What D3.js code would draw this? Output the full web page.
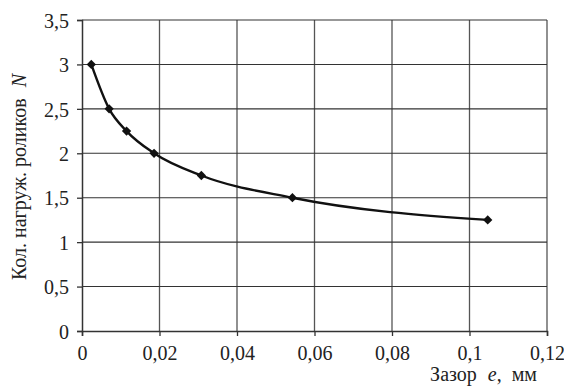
<!DOCTYPE html>
<html lang="ru">
<head>
  <meta charset="UTF-8">
  <title>rollers</title>
  <script src="https://cdn.jsdelivr.net/npm/d3@7/dist/d3.min.js"></script>
  <style>
    * { margin: 0; padding: 0; }
    body { background: #fff; }
  </style>
</head>
<body>
<div id="chart"></div>
<script>
  // зазор e, мм
  const gaps = [0.0024, 0.0070, 0.0115, 0.0186, 0.0308, 0.0543, 0.1047];
  // кол. нагруженных роликов N
  const rollers = [3, 2.5, 2.25, 2, 1.75, 1.5, 1.25];
  const xTicks = [0, 0.02, 0.04, 0.06, 0.08, 0.1, 0.12];
  const yTicks = [0, 0.5, 1, 1.5, 2, 2.5, 3, 3.5];

  const W = 564, H = 392;
  const m = { left: 82, right: 17, top: 20, bottom: 61 };
  const iw = W - m.left - m.right, ih = H - m.top - m.bottom;
  const FONT = "'Liberation Serif', 'Times New Roman', Tinos, 'DejaVu Serif', serif";

  const svg = d3.select("#chart").append("svg").attr("width", W).attr("height", H)
    .style("font-family", FONT);
  const g = svg.append("g").attr("transform", `translate(${m.left},${m.top})`);

  const x = d3.scaleLinear().domain([0, 0.12]).range([0, iw]);
  const y = d3.scaleLinear().domain([0, 3.5]).range([ih, 0]);
  const fmt = d => String(d).replace(".", ",");

  // сетка
  g.append("g").selectAll("line").data(xTicks.slice(1)).join("line")
    .attr("x1", d => x(d)).attr("x2", d => x(d)).attr("y1", 0).attr("y2", ih)
    .attr("stroke", "#555").attr("stroke-width", 1.3);
  g.append("g").selectAll("line").data(yTicks.slice(1)).join("line")
    .attr("x1", 0).attr("x2", iw).attr("y1", d => y(d)).attr("y2", d => y(d))
    .attr("stroke", "#333").attr("stroke-width", 1.1);

  // оси
  const ax = g.append("g").attr("transform", `translate(0,${ih})`)
    .call(d3.axisBottom(x).tickValues(xTicks).tickFormat(fmt).tickSize(5).tickPadding(10));
  const ay = g.append("g")
    .call(d3.axisLeft(y).tickValues(yTicks).tickFormat(fmt).tickSize(5).tickPadding(8));
  [ax, ay].forEach(a => {
    a.attr("font-family", FONT);
    a.select(".domain").attr("stroke", "#333").attr("stroke-width", 1.5);
    a.selectAll(".tick line").attr("stroke", "#333").attr("stroke-width", 1.3);
    a.selectAll("text").attr("font-size", 20).attr("fill", "#222").style("font-family", FONT);
  });
  ax.selectAll(".tick text").attr("dy", "0.71em");
  ay.selectAll(".tick text").attr("dy", "0.36em");

  // кривая
  const pts = gaps.map((e, i) => [e, rollers[i]]);
  g.append("path").datum(pts)
    .attr("fill", "none").attr("stroke", "#111").attr("stroke-width", 2.4)
    .attr("d", d3.line().x(d => x(d[0])).y(d => y(d[1])).curve(d3.curveMonotoneX));

  g.selectAll(".pt").data(pts).join("path").attr("class", "pt")
    .attr("transform", d => `translate(${x(d[0])},${y(d[1])})`)
    .attr("d", d3.symbol().type(d3.symbolDiamond2).size(55))
    .attr("fill", "#111");

  // подписи осей
  const xl = svg.append("text").attr("x", 537).attr("y", 381).attr("text-anchor", "end")
    .attr("font-size", 20).attr("fill", "#222").style("font-family", FONT);
  xl.append("tspan").text("Зазор");
  xl.append("tspan").attr("dx", 11).attr("font-style", "italic").text("e");
  xl.append("tspan").text(",");
  xl.append("tspan").attr("dx", 10).text("мм");

  const yl = svg.append("text").attr("transform", "translate(26,177) rotate(-90)")
    .attr("text-anchor", "middle").attr("font-size", 20).attr("fill", "#222").style("font-family", FONT);
  yl.append("tspan").text("Кол. нагруж. роликов");
  yl.append("tspan").attr("dx", 11).attr("font-style", "italic").text("N");
</script>
</body>
</html>
